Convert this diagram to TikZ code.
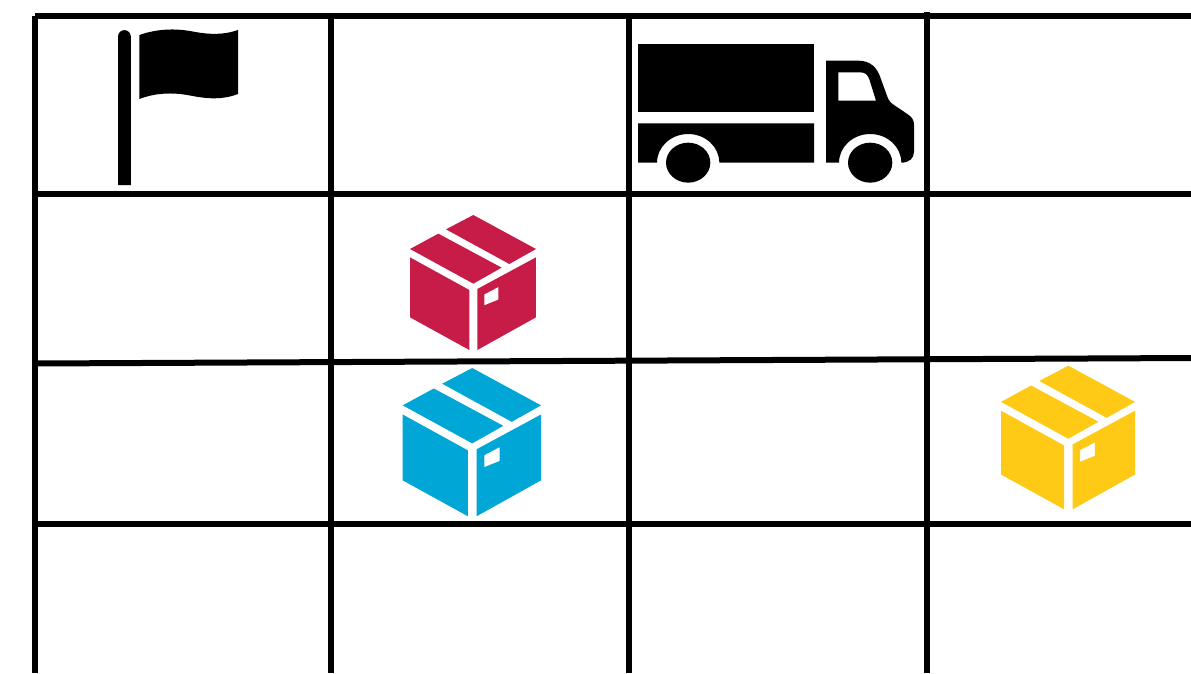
\documentclass[tikz,border=0pt]{standalone}
\definecolor{boxred}{HTML}{C71C48}
\definecolor{boxblue}{HTML}{00A7D6}
\definecolor{boxyellow}{HTML}{FFCA16}
\tikzset{
  gridline/.style={draw=black,line width=6pt},
  icon/.style={fill=black,draw=none},
}
% x of left edge, y of top edge, scale (reference px per drawing unit), colour
\newcommand{\parcel}[4]{%
  \begin{scope}[shift={(#1,#2)},xscale=#3,yscale=#3,shift={(-45,-30)}]
    \fill[#4] (130,86) -- (320,188) -- (235,236) -- (45,132) -- cycle;
    \fill[#4] (235,30) -- (423,132) -- (343,177) -- (153,73) -- cycle;
    \fill[#4] (45,157) -- (223,255) -- (223,435) -- (45,337) -- cycle;
    \fill[#4,even odd rule] (247,252) -- (423,157) -- (423,337) -- (247,435) -- cycle
      (268,268) -- (310,246) -- (310,284) -- (268,301) -- cycle;
  \end{scope}}
\begin{document}
\begin{tikzpicture}[x=1pt,y=-1pt]
  \useasboundingbox (0,0) rectangle (1191,673);
  \fill[white] (0,0) rectangle (1191,673);
  % grid
  \draw[gridline] (35,16) -- (35,673);
  \draw[gridline] (331,16) -- (331,673);
  \draw[gridline] (629,16) -- (629,673);
  \draw[gridline] (927,12) -- (927,673);
  \draw[gridline] (35,16) -- (1191,16);
  \draw[gridline] (35,194) -- (1191,194);
  \draw[gridline] (35,363.5) -- (1191,358);
  \draw[gridline] (35,524) -- (1191,524);
  % flag
  \fill[icon] (118,185) -- (118,36.5) arc[start angle=180,end angle=0,x radius=6.4,y radius=-6.4] -- (130.8,185) -- cycle;
  \fill[icon] (139.3,35) .. controls (155,29.5) and (172,28) .. (190,31)
     .. controls (208,34.5) and (222,35.5) .. (238,30)
     -- (238,94) .. controls (222,100) and (208,99) .. (190,95.5)
     .. controls (172,92) and (155,93) .. (139.3,99) -- cycle;
  % truck
  \begin{scope}[shift={(630,30)},xscale=1/3,yscale=1/3]
    \fill[icon] (24,42) rectangle (552,246);
    \fill[icon] (24,280) -- (552,280) -- (552,398) -- (268,398)
       .. controls (268,350.5) and (226,312) .. (174.5,312)
       .. controls (123,312) and (81,350.5) .. (81,398)
       -- (24,398) -- cycle;
    \fill[icon] (174.5,338) .. controls (211,338) and (241,365) .. (241,398)
       .. controls (241,431) and (211,458) .. (174.5,458)
       .. controls (138,458) and (108,431) .. (108,398)
       .. controls (108,365) and (138,338) .. (174.5,338) -- cycle;
    \fill[icon,even odd rule] (588,92) -- (685,92)
       .. controls (720,92) and (742,112) .. (752,145)
       -- (772,200) .. controls (776,212) and (782,218) .. (792,225)
       -- (832,252) .. controls (846,261) and (852,270) .. (852,285)
       -- (852,365) .. controls (852,385) and (838,398) .. (814,398)
       .. controls (814,350.5) and (772,312) .. (720.5,312)
       .. controls (669,312) and (627,350.5) .. (627,398)
       -- (588,398) -- cycle
       (625,127) -- (690,127) .. controls (706,127) and (713,134) .. (718,148)
       -- (738,212) -- (625,212) -- cycle;
    \fill[icon] (720.5,338) .. controls (757,338) and (787,365) .. (787,398)
       .. controls (787,431) and (757,458) .. (720.5,458)
       .. controls (684,458) and (654,431) .. (654,398)
       .. controls (654,365) and (684,338) .. (720.5,338) -- cycle;
  \end{scope}
  % parcels
  \parcel{410}{215}{0.3333}{boxred}
  \parcel{402.7}{368}{0.366}{boxblue}
  \parcel{1001}{365.7}{0.3545}{boxyellow}
\end{tikzpicture}
\end{document}
